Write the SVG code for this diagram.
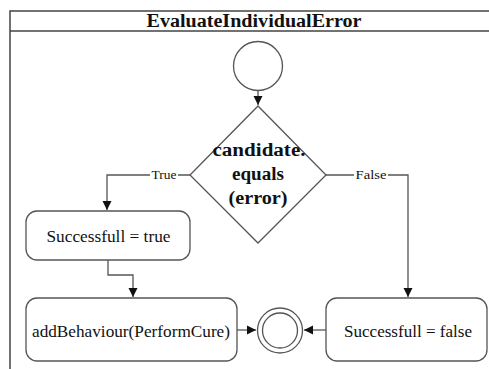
<svg xmlns="http://www.w3.org/2000/svg" width="489" height="369" viewBox="0 0 489 369">
  <style>
    .frame { fill: none; stroke: #444; stroke-width: 1.5; }
    .shape { fill: #fff; stroke: #555; stroke-width: 1.3; }
    .edge { fill: none; stroke: #555; stroke-width: 1.3; }
    .txt { font-family: 'Liberation Serif', 'DejaVu Serif', serif; fill: #111; text-anchor: middle; }
    .title { font-size: 18px; font-weight: bold; }
    .cond { font-size: 18px; font-weight: bold; }
    .act { font-size: 17px; }
    .lbl { font-size: 12px; }
  </style>
  <defs>
    <marker id="arrow" markerWidth="10" markerHeight="10" refX="9" refY="5" orient="auto" markerUnits="userSpaceOnUse">
      <path d="M0,0.5 L9,5 L0,9.5 Z" fill="#111"/>
    </marker>
  </defs>

  <rect width="489" height="369" fill="#fff"/>

  <!-- activity frame with header -->
  <g id="frame">
    <path class="frame" d="M10,369 L10,11 L489,11 M10,31 L489,31"/>
    <text class="txt title" x="254" y="27" textLength="215" lengthAdjust="spacingAndGlyphs">EvaluateIndividualError</text>
  </g>

  <!-- connectors -->
  <g id="connectors">
    <path class="edge" d="M258,91 L258,105" marker-end="url(#arrow)"/>
    <path class="edge" d="M190,175 L107,175 L107,210" marker-end="url(#arrow)"/>
    <path class="edge" d="M326,175 L408,175 L408,297" marker-end="url(#arrow)"/>
    <path class="edge" d="M108,260 L108,275 L133,275 L133,297" marker-end="url(#arrow)"/>
    <path class="edge" d="M237,330 L256,330" marker-end="url(#arrow)"/>
    <path class="edge" d="M326,330 L304,330" marker-end="url(#arrow)"/>
    <rect x="150" y="168" width="28" height="13" fill="#fff"/>
    <text class="txt lbl" x="164" y="179" textLength="25" lengthAdjust="spacingAndGlyphs">True</text>
    <rect x="354" y="168" width="34" height="13" fill="#fff"/>
    <text class="txt lbl" x="371" y="179" textLength="31" lengthAdjust="spacingAndGlyphs">False</text>
  </g>

  <!-- initial node -->
  <g id="start">
    <circle class="shape" cx="258" cy="66" r="24.5"/>
  </g>

  <!-- decision -->
  <g id="decision">
    <polygon class="shape" points="258,106 326,175 258,243 190,175"/>
    <text class="txt cond" x="259" y="156" textLength="93" lengthAdjust="spacingAndGlyphs">candidate.</text>
    <text class="txt cond" x="258" y="180" textLength="52" lengthAdjust="spacingAndGlyphs">equals</text>
    <text class="txt cond" x="258" y="204" textLength="59" lengthAdjust="spacingAndGlyphs">(error)</text>
  </g>

  <!-- actions -->
  <g id="setTrue">
    <rect class="shape" x="26" y="211" width="164" height="49" rx="11"/>
    <text class="txt act" x="108.5" y="242" textLength="124" lengthAdjust="spacingAndGlyphs">Successfull = true</text>
  </g>

  <g id="addBehaviour">
    <rect class="shape" x="26" y="298" width="211" height="63" rx="11"/>
    <text class="txt act" x="131" y="337" textLength="198" lengthAdjust="spacingAndGlyphs">addBehaviour(PerformCure)</text>
  </g>

  <g id="setFalse">
    <rect class="shape" x="326" y="298" width="161" height="63" rx="11"/>
    <text class="txt act" x="408" y="337" textLength="128" lengthAdjust="spacingAndGlyphs">Successfull = false</text>
  </g>

  <!-- final node -->
  <g id="end">
    <circle class="shape" cx="280" cy="330.5" r="22.5"/>
    <circle class="shape" cx="280" cy="330.5" r="17.5"/>
  </g>
</svg>
